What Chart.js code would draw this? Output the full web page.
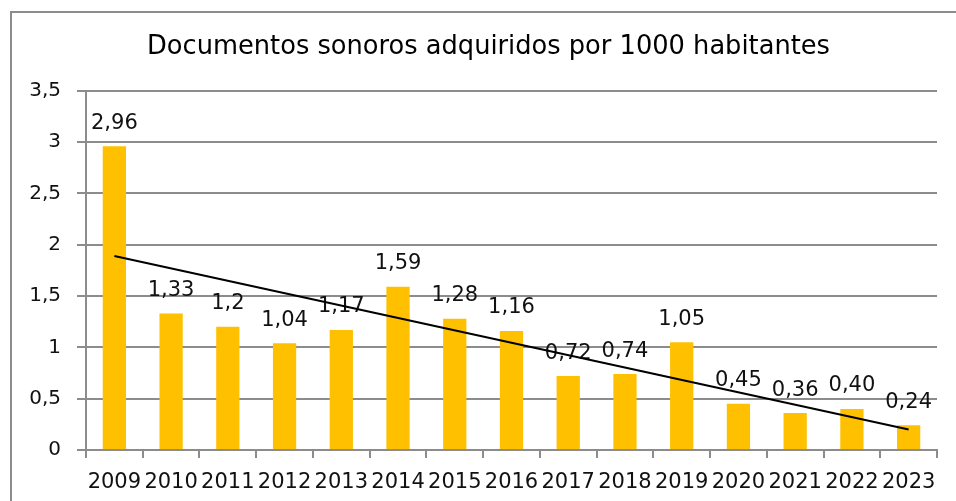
<!DOCTYPE html>
<html lang="es">
<head>
  <meta charset="UTF-8" />
  <title>Documentos sonoros adquiridos por 1000 habitantes</title>
  <script src="https://cdn.jsdelivr.net/npm/chart.js"></script>
  <style>
    body {
      margin: 0;
      background: #fff;
      font-family: 'DejaVu Sans', sans-serif;
    }
    #wrap {
      position: relative;
      width: 956px;
      height: 501px;
      overflow: hidden;
    }
    #frame {
      position: absolute;
      left: 10px;
      top: 11px;
      width: 980px;
      height: 520px;
      border: 2px solid #8c8c8c;
      box-sizing: border-box;
    }
    #chartBox {
      position: absolute;
      left: 0;
      top: 0;
      width: 956px;
      height: 501px;
    }
  </style>
</head>
<body>
  <div id="wrap">
    <div id="frame"></div>
    <div id="chartBox"><canvas id="soundChart"></canvas></div>
  </div>

  <script>
    const years = ['2009', '2010', '2011', '2012', '2013', '2014', '2015', '2016',
                   '2017', '2018', '2019', '2020', '2021', '2022', '2023'];
    const docsPer1000 = [2.96, 1.33, 1.2, 1.04, 1.17, 1.59, 1.28, 1.16,
                         0.72, 0.74, 1.05, 0.45, 0.36, 0.40, 0.24];
    const valueLabels = ['2,96', '1,33', '1,2', '1,04', '1,17', '1,59', '1,28', '1,16',
                         '0,72', '0,74', '1,05', '0,45', '0,36', '0,40', '0,24'];
    // linea de tendencia: valores en 2009 y 2023
    const trendEnds = [1.89, 0.20];

    const trendData = years.map((_, i) =>
      i === 0 ? trendEnds[0] : (i === years.length - 1 ? trendEnds[1] : null));

    const gridGrey = '#8c8c8c';

    // etiquetas de valor encima de cada barra
    const barLabels = {
      id: 'barLabels',
      afterDatasetDraw(chart, args) {
        if (args.index !== 0) return;
        const ctx = chart.ctx;
        ctx.save();
        ctx.font = '21px "DejaVu Sans"';
        ctx.fillStyle = '#111';
        ctx.textAlign = 'center';
        ctx.textBaseline = 'middle';
        args.meta.data.forEach((bar, i) => {
          ctx.fillText(valueLabels[i], bar.x, bar.y - 23);
        });
        ctx.restore();
      }
    };

    // el titulo va centrado un poco mas a la derecha, como en el original
    const titleShift = {
      id: 'titleShift',
      afterLayout(chart) {
        const t = chart.titleBlock;
        if (t) { t.left += 18; }
      }
    };

    const ctx = document.getElementById('soundChart').getContext('2d');
    new Chart(ctx, {
      data: {
        labels: years,
        datasets: [
          {
            type: 'bar',
            data: docsPer1000,
            backgroundColor: '#FFC000',
            categoryPercentage: 1,
            barPercentage: 0.41,
            order: 1
          },
          {
            type: 'line',
            data: trendData,
            borderColor: '#000',
            borderWidth: 2,
            pointRadius: 0,
            spanGaps: true,
            fill: false,
            order: 0
          }
        ]
      },
      options: {
        responsive: true,
        maintainAspectRatio: false,
        animation: false,
        layout: { padding: { left: 22, right: 19, top: 32, bottom: 0 } },
        plugins: {
          legend: { display: false },
          tooltip: { enabled: false },
          title: {
            display: true,
            text: 'Documentos sonoros adquiridos por 1000 habitantes',
            color: '#000',
            font: { family: 'DejaVu Sans', size: 25.7, weight: 'normal' },
            padding: { top: 0, bottom: 28 }
          }
        },
        scales: {
          x: {
            afterFit(scale) { scale.height = 51; },
            grid: {
              display: true,
              drawOnChartArea: false,
              drawTicks: true,
              tickLength: 8,
              color: gridGrey,
              lineWidth: 2
            },
            border: { display: true, color: gridGrey, width: 2 },
            ticks: {
              color: '#111',
              font: { family: 'DejaVu Sans', size: 21 },
              autoSkip: false,
              maxRotation: 0,
              padding: 12
            }
          },
          y: {
            min: 0,
            max: 3.5,
            afterFit(scale) { scale.width = 64; },
            grid: { color: gridGrey, lineWidth: 2, tickLength: 9 },
            border: { display: true, color: gridGrey, width: 2 },
            ticks: {
              stepSize: 0.5,
              color: '#111',
              padding: 16,
              font: { family: 'DejaVu Sans', size: 20 },
              callback: v => String(v).replace('.', ',')
            }
          }
        }
      },
      plugins: [barLabels, titleShift]
    });
  </script>
</body>
</html>
